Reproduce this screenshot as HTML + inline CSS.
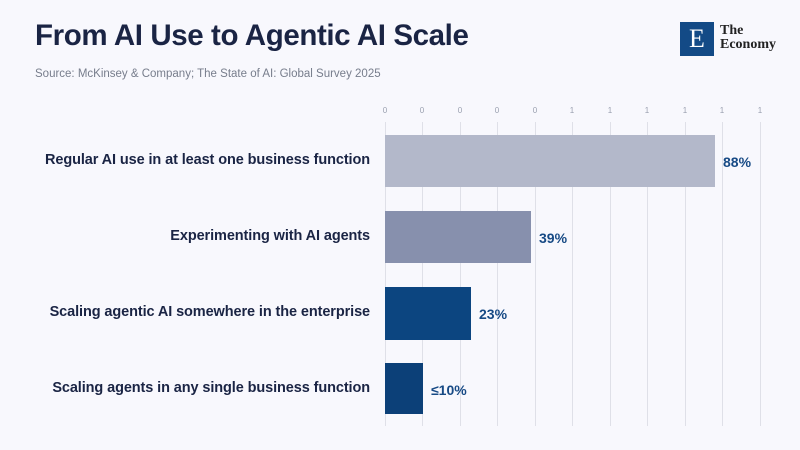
<!DOCTYPE html>
<html><head><meta charset="utf-8"><style>
body{margin:0;width:800px;height:450px;background:#f8f8fd;font-family:"Liberation Sans",sans-serif;position:relative;overflow:hidden}
.t{position:absolute;left:35px;top:19px;font-size:29.5px;font-weight:bold;color:#1a2444;letter-spacing:-0.4px}
.s{position:absolute;left:35px;top:68px;font-size:11.5px;color:#777d8c}
.g{position:absolute;top:122px;height:304px;width:1px;background:#dfe0e8}
.tk{position:absolute;top:106px;font-size:8px;color:#9aa0b0;width:20px;margin-left:-10px;text-align:center}
.b{position:absolute;left:385px}
.l{position:absolute;right:430px;font-size:14.5px;font-weight:bold;color:#1a2444;white-space:nowrap;letter-spacing:-0.1px}
.v{position:absolute;font-size:14px;font-weight:bold;color:#174a85}
</style></head><body>
<div class="t">From AI Use to Agentic AI Scale</div>
<div class="s">Source: McKinsey &amp; Company; The State of AI: Global Survey 2025</div>
<div style="position:absolute;left:680px;top:22px;width:34px;height:34px;background:#134a86;color:#fff;font-family:'Liberation Serif',serif;font-size:26px;text-align:center;line-height:34px">E</div>
<div style="position:absolute;left:720px;top:24px;font-family:'Liberation Serif',serif;font-weight:bold;font-size:14px;line-height:14px;color:#222">The<br>Economy</div>
<div class="g" style="left:385px"></div><div class="g" style="left:422px"></div><div class="g" style="left:460px"></div><div class="g" style="left:497px"></div><div class="g" style="left:535px"></div><div class="g" style="left:572px"></div><div class="g" style="left:610px"></div><div class="g" style="left:647px"></div><div class="g" style="left:685px"></div><div class="g" style="left:722px"></div><div class="g" style="left:760px"></div>
<div class="tk" style="left:385px">0</div><div class="tk" style="left:422px">0</div><div class="tk" style="left:460px">0</div><div class="tk" style="left:497px">0</div><div class="tk" style="left:535px">0</div><div class="tk" style="left:572px">1</div><div class="tk" style="left:610px">1</div><div class="tk" style="left:647px">1</div><div class="tk" style="left:685px">1</div><div class="tk" style="left:722px">1</div><div class="tk" style="left:760px">1</div>
<div class="b" style="top:135px;height:52px;width:330px;background:#b3b8ca"></div>
<div class="b" style="top:211px;height:52px;width:146px;background:#8790ad"></div>
<div class="b" style="top:287px;height:53px;width:86px;background:#0c4580"></div>
<div class="b" style="top:363px;height:51px;width:38px;background:#0c4078"></div>
<div class="l" style="top:152px">Regular AI use in at least one business function</div>
<div class="l" style="top:228px">Experimenting with AI agents</div>
<div class="l" style="top:304px">Scaling agentic AI somewhere in the enterprise</div>
<div class="l" style="top:380px">Scaling agents in any single business function</div>
<div class="v" style="left:723px;top:154px">88%</div>
<div class="v" style="left:539px;top:230px">39%</div>
<div class="v" style="left:479px;top:306px">23%</div>
<div class="v" style="left:431px;top:382px">≤10%</div>
</body></html>
